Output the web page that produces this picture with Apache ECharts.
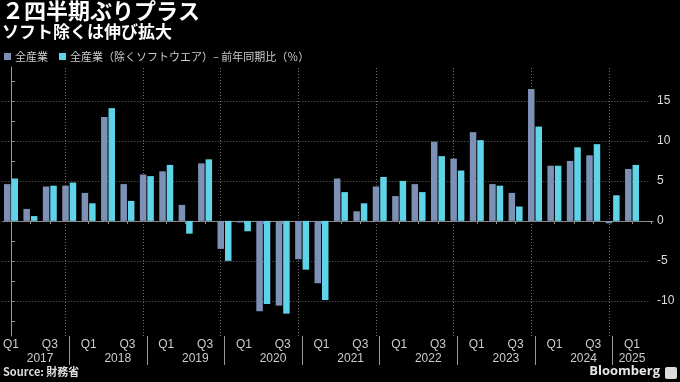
<!DOCTYPE html>
<html>
<head>
<meta charset="utf-8">
<script src="https://cdn.jsdelivr.net/npm/echarts@6/dist/echarts.min.js"></script>
<style>
html,body{margin:0;padding:0;background:#000;}
#chart{width:680px;height:382px;}
</style>
</head>
<body>
<div id="chart"></div>
<script>
// ---- data ----
const years = ['2017','2018','2019','2020','2021','2022','2023','2024','2025'];
const quarterNames = ['Q1','Q2','Q3','Q4'];
const categories = years.flatMap(y => quarterNames.map(q => y + ' ' + q)).slice(0, 33);
const seriesNames = ['全産業', '全産業（除くソフトウエア）– 前年同期比（％）'];
const allIndustry = [
  4.6, 1.5, 4.3, 4.4,
  3.5, 13.0, 4.6, 5.8,
  6.2, 2.0, 7.2, -3.5,
  -0.2, -11.3, -10.6, -4.8,
  -7.8, 5.3, 1.2, 4.3,
  3.1, 4.6, 9.9, 7.8,
  11.1, 4.6, 3.5, 16.5,
  6.9, 7.5, 8.2, -0.3,
  6.5
];
const exSoftware = [
  5.3, 0.6, 4.4, 4.8,
  2.2, 14.1, 2.5, 5.6,
  7.0, -1.6, 7.7, -5.0,
  -1.3, -10.4, -11.6, -6.1,
  -9.9, 3.6, 2.2, 5.5,
  5.0, 3.6, 8.1, 6.3,
  10.1, 4.4, 1.8, 11.8,
  6.9, 9.2, 9.6, 3.2,
  7.0
];
const yTickLabels = [-10, -5, 0, 5, 10, 15];
const yTickMarks = [-12.5, -10, -7.5, -5, -2.5, 0, 2.5, 5, 7.5, 10, 12.5, 15, 17.5];

// ---- derived ----
const n = categories.length;
const idx = categories.map((c, i) => i);
const qLabelPos = idx.filter(i => i % 4 === 0 || i % 4 === 2);
const qTickPos = idx.concat([n]).filter(i => i % 4 !== 3);
const yearSepPos = idx.filter(i => i % 4 === 3);
const yearLabelPos = years.map((y, k) => (k * 4 + 3 < n ? k * 4 + 1.5 : k * 4));
const FONT = '"Noto Sans CJK JP", "Noto Sans", sans-serif';
const GRAY = '#7d90b5';
const CYAN = '#5fd4e8';
const XMIN = -0.41, XMAX = 33.08;
const YMIN = -14.4, YMAX = 19.25;

const hGrid = yTickLabels.map(v => [{coord: [XMIN, v]}, {coord: [XMAX, v]}]);
const vGrid = yearSepPos.map(i => [{coord: [i, YMIN]}, {coord: [i, YMAX]}]);

const chart = echarts.init(document.getElementById('chart'), null, {renderer: 'canvas'});
chart.setOption({
  backgroundColor: '#000',
  animation: false,
  textStyle: {fontFamily: FONT},
  title: [
    {text: '２四半期ぶりプラス', left: 2, top: 0, padding: 0,
     textStyle: {color: '#fff', fontSize: 22, fontWeight: 'bold', fontFamily: FONT}},
    {text: 'ソフト除くは伸び拡大', left: 2, top: 23, padding: 0,
     textStyle: {color: '#fff', fontSize: 17, fontWeight: 'bold', fontFamily: FONT}},
    {text: 'Source: 財務省', left: 3, top: 366, padding: 0,
     textStyle: {color: '#ddd', fontSize: 11, fontWeight: 'bold', fontFamily: FONT}},
    {text: 'Bloomberg', right: 20, top: 365, padding: 0,
     textStyle: {color: '#e6e6e6', fontSize: 13, fontWeight: 'bold', fontFamily: '"Open Sans", sans-serif'}}
  ],
  graphic: [
    {type: 'rect', right: 3, top: 367, shape: {width: 12, height: 12, r: 2}, style: {fill: '#ddd'}}
  ],
  legend: {
    left: 4, top: 51, padding: 0, itemGap: 11, itemWidth: 7, itemHeight: 7,
    icon: 'rect',
    textStyle: {color: '#ccc', fontSize: 11, fontFamily: FONT, padding: [0, 0, 0, -1]},
    data: seriesNames
  },
  grid: {left: 0, right: 27, top: 67, bottom: 46, containLabel: false},
  xAxis: [
    {
      type: 'value', min: XMIN, max: XMAX, position: 'bottom',
      axisLine: {show: true, lineStyle: {color: '#999', width: 1}},
      axisTick: {show: true, customValues: qTickPos, length: 3, lineStyle: {color: '#999'}},
      axisLabel: {show: true, customValues: qLabelPos, margin: 3, color: '#ccc', fontSize: 12,
                  fontFamily: '"Liberation Sans", sans-serif',
                  formatter: v => quarterNames[Math.round(v) % 4]},
      splitLine: {show: false}
    },
    {
      type: 'value', min: XMIN, max: XMAX, position: 'bottom',
      axisLine: {show: false},
      axisTick: {show: true, customValues: yearSepPos, length: 29, lineStyle: {color: '#999'}},
      axisLabel: {show: true, customValues: yearLabelPos, margin: 17, color: '#ccc', fontSize: 12,
                  fontFamily: '"Liberation Sans", sans-serif',
                  formatter: v => years[Math.floor(v / 4)]},
      splitLine: {show: false}
    }
  ],
  yAxis: {
    type: 'value', position: 'right', min: YMIN, max: YMAX,
    axisLine: {show: true, lineStyle: {color: '#999', width: 1}},
    axisTick: {show: true, customValues: yTickMarks, length: 4, lineStyle: {color: '#999'}},
    axisLabel: {show: true, customValues: yTickLabels, margin: 4, color: '#ddd', fontSize: 12,
                fontFamily: '"Liberation Sans", sans-serif'},
    splitLine: {show: false}
  },
  series: [
    {
      name: seriesNames[0], type: 'bar', xAxisIndex: 0, z: 3, zlevel: 0,
      barWidth: 6.5, barGap: '15%',
      itemStyle: {color: GRAY},
      data: allIndustry.map((v, i) => [i, v]),
      markLine: {
        silent: true, symbol: ['none', 'none'], z: 1,
        animation: false,
        label: {show: false},
        emphasis: {disabled: true},
        lineStyle: {color: '#6a6a6a', type: [1, 2], width: 1},
        data: hGrid.concat(vGrid)
      }
    },
    {
      name: seriesNames[1], type: 'bar', xAxisIndex: 0, z: 3,
      barWidth: 6.5, barGap: '15%',
      itemStyle: {color: CYAN},
      data: exSoftware.map((v, i) => [i, v])
    }
  ]
});
</script>
</body>
</html>
